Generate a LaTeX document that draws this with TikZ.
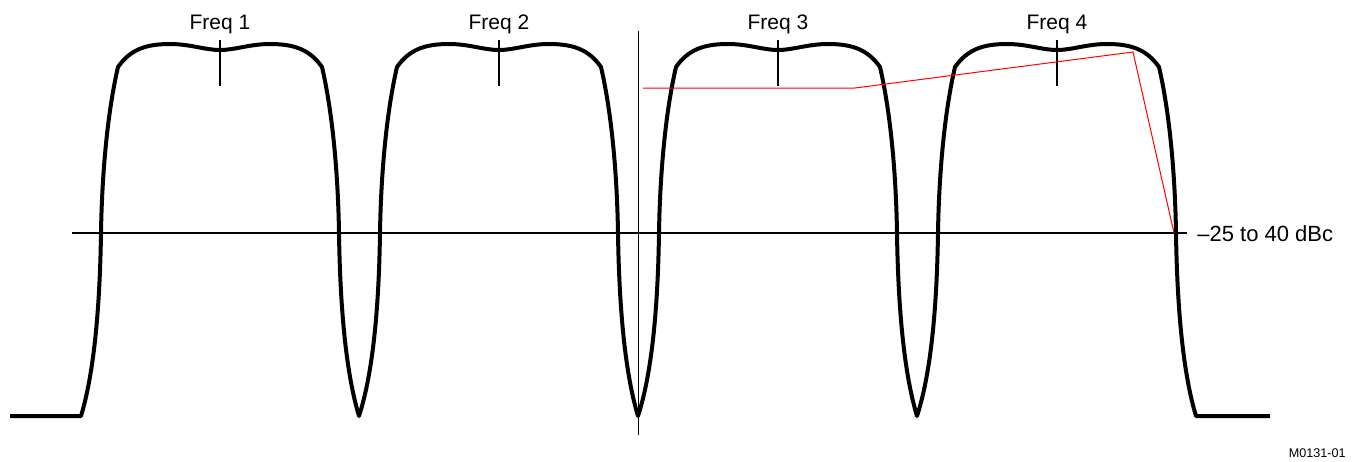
\documentclass[tikz,border=0pt]{standalone}
\usepackage{fontspec}
\setmainfont{Liberation Sans}
\usetikzlibrary{positioning}

\tikzset{
  mask/.style={line width=2pt, line join=round},
  thin line/.style={line width=0.65pt},
  limit/.style={red, line width=0.5pt},
  freqlabel/.style={font=\fontsize{10.5}{12}\selectfont, inner sep=0pt},
}

\begin{document}
\begin{tikzpicture}[x=0.5pt, y=-0.5pt]
\useasboundingbox (0,0) rectangle (1356,461);
% reference level and axis
\draw[thin line] (72,233) -- (1187,233);
\draw[thin line] (638.5,31) -- (638.5,435);
% spectrum of the 4 carriers
\draw[mask] (10,416) -- (81,416)
  \foreach \c in {220,499,778,1057}{
    .. controls (\c-125,370) and (\c-120,300) .. (\c-119,233)
    .. controls (\c-118,170) and (\c-112,110) .. (\c-102,67)
    .. controls (\c-90,50) and (\c-75,44) .. (\c-50,44)
    .. controls (\c-30,44) and (\c-15,50) .. (\c,50)
    .. controls (\c+15,50) and (\c+30,44) .. (\c+50,44)
    .. controls (\c+75,44) and (\c+90,50) .. (\c+102,67)
    .. controls (\c+112,110) and (\c+118,170) .. (\c+119,233)
    .. controls (\c+120,300) and (\c+125,370) .. (\c+139,416)
  } -- (1270,416);
% center ticks and labels
\foreach \c [count=\i] in {220,499,778,1057}{
  \draw[thin line] (\c,40) -- (\c,86);
  \node[freqlabel, anchor=base] (freq\i) at (\c,29) {Freq \i};
}
% red limit line
\coordinate (r1) at (643,88);
\coordinate (r2) at (855,88);
\coordinate (r3) at (1133,52);
\coordinate (r4) at (1174,233);
\draw[limit] (r1) -- (r2) -- (r3) -- (r4);
% level text
\node[freqlabel, font=\fontsize{11}{13}\selectfont, anchor=base west] (level) at (1197,241) {--25 to 40 dBc};
% figure id
\node[font=\fontsize{6.3}{7}\selectfont, inner sep=0pt, anchor=base east] (figid) at (1346,457) {M0131-01};
\end{tikzpicture}
\end{document}
